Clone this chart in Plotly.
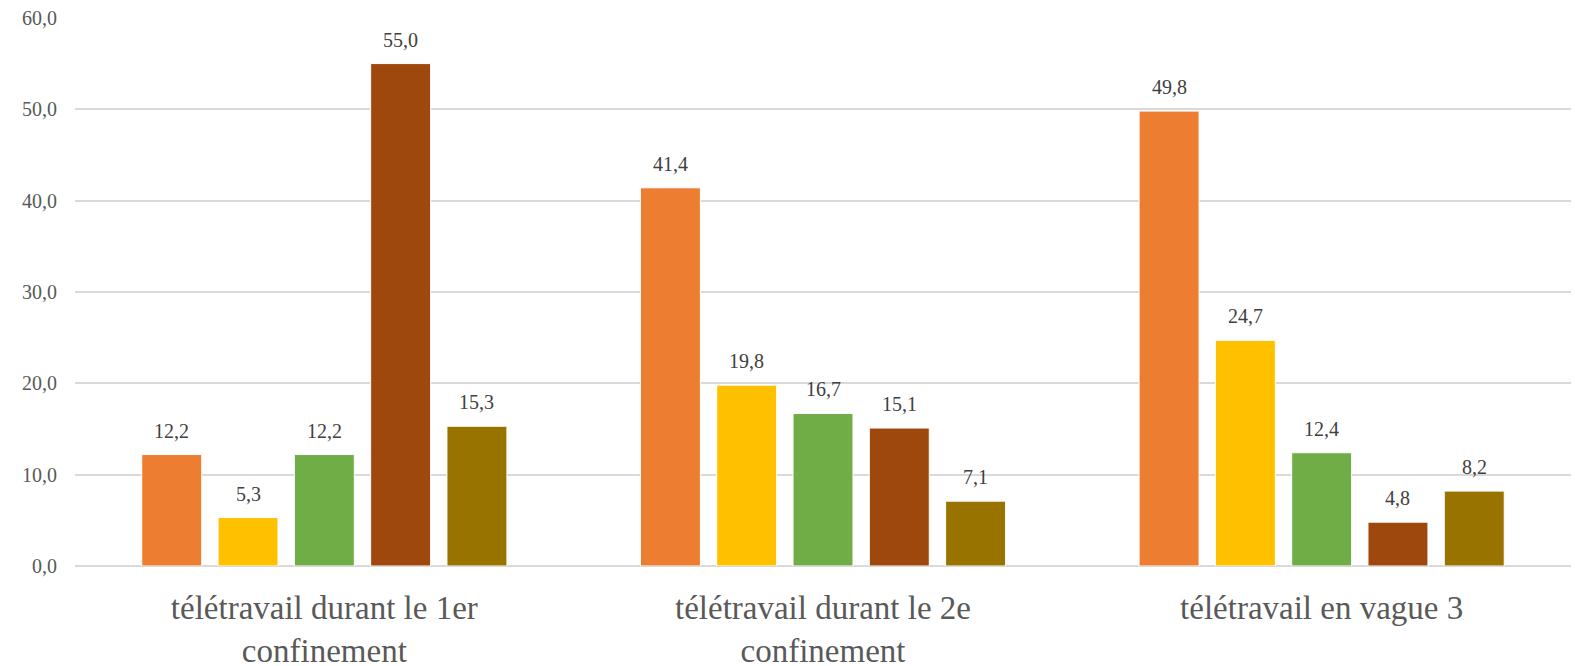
import plotly.graph_objects as go

categories = ["télétravail durant le 1er<br>confinement",
              "télétravail durant le 2e<br>confinement",
              "télétravail en vague 3"]
series_names = ["Série 1", "Série 2", "Série 3", "Série 4", "Série 5"]
series_values = [
    [12.2, 41.4, 49.8],
    [5.3, 19.8, 24.7],
    [12.2, 16.7, 12.4],
    [55.0, 15.1, 4.8],
    [15.3, 7.1, 8.2],
]
colors = ["#ED7D31", "#FFC000", "#70AD47", "#9E480E", "#997300"]
y_ticks = [0, 10, 20, 30, 40, 50, 60]

FONT = "Liberation Serif, Times New Roman, serif"
W, H = 1575, 666
ML, MR, MT, MB = 75, 4, 17, 100
BARGAP = 0.235
GROUPGAP = 0.214

fig = go.Figure()
for name, vals, col in zip(series_names, series_values, colors):
    fig.add_trace(go.Bar(
        name=name, x=categories, y=vals,
        marker=dict(color=col, line=dict(color="white", width=1)),
        hoverinfo="x+y",
    ))

# data labels as annotations above each bar (offset per series within group)
plot_w = W - ML - MR
cat_px = plot_w / len(categories)
slot_px = cat_px * (1 - BARGAP) / len(series_names)
annotations = []
for i, vals in enumerate(series_values):
    dx = (i - (len(series_names) - 1) / 2) * slot_px
    for c, v in zip(categories, vals):
        annotations.append(dict(
            x=c, y=v, xref="x", yref="y",
            text=f"{v:.1f}".replace(".", ","),
            showarrow=False, xshift=dx, yshift=11, yanchor="bottom",
            font=dict(family=FONT, size=20, color="#404040"),
        ))

fig.update_layout(
    barmode="group",
    bargap=BARGAP,
    bargroupgap=GROUPGAP,
    showlegend=False,
    separators=",.",
    width=W, height=H,
    margin=dict(l=ML, r=MR, t=MT, b=MB),
    paper_bgcolor="white", plot_bgcolor="white",
    font=dict(family=FONT, color="#595959"),
    annotations=annotations,
)
fig.update_yaxes(
    range=[0, 60.1], tickvals=y_ticks, tickformat=".1f",
    showgrid=True, gridcolor="#D9D9D9", gridwidth=1.7,
    zeroline=True, zerolinecolor="#D9D9D9", zerolinewidth=1.7,
    tickfont=dict(family=FONT, size=20, color="#595959"),
    ticks="", showline=False, automargin=False, ticklabelstandoff=17,
)
fig.update_xaxes(
    tickfont=dict(family=FONT, size=33, color="#595959"),
    ticks="", showline=False, automargin=False, ticklabelstandoff=19,
)
fig.write_html("out.html", config={"displayModeBar": False},
               post_script="document.body.style.margin='0';")
